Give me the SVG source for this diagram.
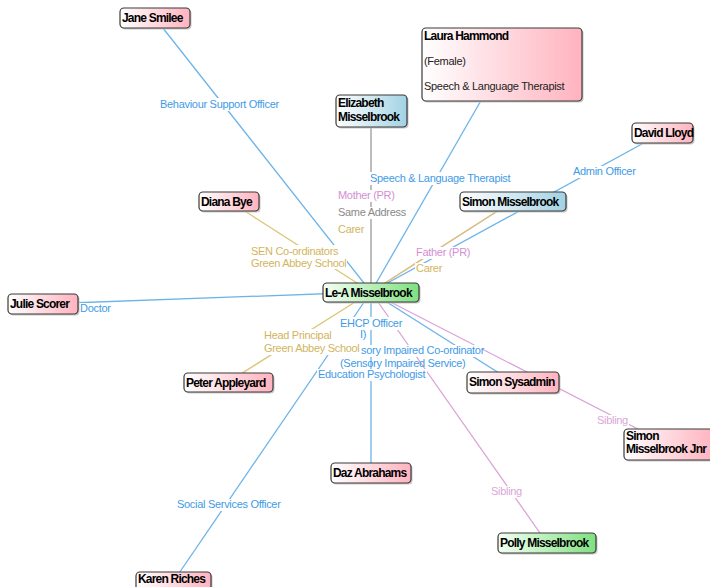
<svg xmlns="http://www.w3.org/2000/svg" width="710" height="587" viewBox="0 0 710 587">
<defs>
<linearGradient id="gPink" x1="0" y1="0" x2="1" y2="0"><stop offset="0" stop-color="#ffffff"/><stop offset="1" stop-color="#ffb3bf"/></linearGradient>
<linearGradient id="gGreen" x1="0" y1="0" x2="1" y2="0"><stop offset="0" stop-color="#f4fff4"/><stop offset="1" stop-color="#7fe07f"/></linearGradient>
<linearGradient id="gBlue" x1="0" y1="0" x2="1" y2="0"><stop offset="0" stop-color="#ffffff"/><stop offset="1" stop-color="#a2d2e4"/></linearGradient>
<style>
.n rect.b{stroke:#3a3a3a;stroke-width:1.2}
.n rect.s{fill:#c8c8c8}
.p{fill:url(#gPink)}
.g{fill:url(#gGreen)}
.bl{fill:url(#gBlue)}
.nt{font-family:"Liberation Sans",Arial,sans-serif;font-size:12px;font-weight:bold;letter-spacing:-0.8px;fill:#000}
.nr{font-family:"Liberation Sans",Arial,sans-serif;font-size:11px;letter-spacing:-0.3px;fill:#222}
.l{font-family:"Liberation Sans",Arial,sans-serif;font-size:11px;letter-spacing:-0.3px}
.cb{stroke:#6cb4e8}
.cg{stroke:#dcc679}
.cp{stroke:#dba3d8}
.cy{stroke:#9a9a9a}
#connectors line{stroke-width:1.3;fill:none}
.tb{fill:#3f9be6}
.tg{fill:#d2b55e}
.tp{fill:#d48ed3}
.tq{fill:#d9a6d9}
.ty{fill:#8a8a8a}
.bg{fill:#ffffff}
</style>
</defs>
<rect width="710" height="587" fill="#ffffff"/>
<g id="connectors">
<line class="cb" x1="155" y1="18" x2="371" y2="292"/>
<line class="cb" x1="502" y1="64" x2="371" y2="292"/>
<line class="cy" x1="371" y1="111" x2="371" y2="292"/>
<line class="cb" x1="662" y1="133" x2="371" y2="292"/>
<line class="cp" x1="513" y1="201" x2="371" y2="292"/>
<line class="cg" x1="513" y1="201" x2="371" y2="292"/>
<line class="cg" x1="229" y1="201" x2="371" y2="292"/>
<line class="cb" x1="43" y1="304" x2="371" y2="292"/>
<line class="cg" x1="228" y1="382" x2="371" y2="292"/>
<line class="cb" x1="513" y1="382" x2="371" y2="292"/>
<line class="cp" x1="667" y1="444" x2="371" y2="292"/>
<line class="cb" x1="371" y1="473" x2="371" y2="292"/>
<line class="cp" x1="547" y1="543" x2="371" y2="292"/>
<line class="cb" x1="173" y1="582" x2="371" y2="292"/>
</g>
<g id="labels">
<rect class="bg" x="159" y="98" width="122" height="13"/><text class="l tb" x="160" y="108">Behaviour Support Officer</text>
<rect class="bg" x="369" y="172" width="142" height="13"/><text class="l tb" x="370" y="182">Speech &amp; Language Therapist</text>
<rect class="bg" x="337" y="190" width="58" height="12"/><text class="l tp" x="338" y="199">Mother (PR)</text>
<rect class="bg" x="337" y="207" width="70" height="12"/><text class="l ty" x="338" y="216">Same Address</text>
<rect class="bg" x="337" y="224" width="30" height="12"/><text class="l tg" x="338" y="233">Carer</text>
<rect class="bg" x="572" y="166" width="66" height="12"/><text class="l tb" x="573" y="175">Admin Officer</text>
<rect class="bg" x="415" y="247" width="55" height="12"/><text class="l tp" x="416" y="256">Father (PR)</text>
<rect class="bg" x="415" y="263" width="30" height="12"/><text class="l tg" x="416" y="272">Carer</text>
<rect class="bg" x="250" y="245" width="97" height="24"/><text class="l tg" x="251" y="255">SEN Co-ordinators</text><text class="l tg" x="251" y="266.5">Green Abbey School</text>
<rect class="bg" x="79" y="303" width="33" height="12"/><text class="l tb" x="80" y="312">Doctor</text>
<rect class="bg" x="263" y="329" width="96" height="26"/><text class="l tg" x="264" y="339">Head Principal</text><text class="l tg" x="264" y="352">Green Abbey School</text>
<rect class="bg" x="339" y="317" width="64" height="13"/><text class="l tb" x="340" y="327">EHCP Officer</text>
<text class="l tb" x="360" y="338">I)</text>
<rect class="bg" x="360" y="345" width="122" height="12"/><text class="l tb" x="361" y="354">sory Impaired Co-ordinator</text>
<text class="l tb" x="340" y="366.5">(Sensory Impaired Service)</text>
<rect class="bg" x="317" y="369" width="110" height="12"/><text class="l tb" x="318" y="378">Education Psychologist</text>
<rect class="bg" x="596" y="415" width="33" height="12"/><text class="l tq" x="597" y="424">Sibling</text>
<rect class="bg" x="490" y="486" width="34" height="12"/><text class="l tq" x="491" y="495">Sibling</text>
<rect class="bg" x="176" y="499" width="107" height="12"/><text class="l tb" x="177" y="508">Social Services Officer</text>
</g>
<g id="n-jane" class="n"><rect class="s" x="121.5" y="9.5" width="70" height="20" rx="4"/><rect class="b p" x="120" y="8" width="70" height="20" rx="4"/><text class="nt" x="122" y="22">Jane Smilee</text></g>
<g id="n-laura" class="n"><rect class="s" x="423.5" y="29.5" width="160" height="73" rx="4"/><rect class="b p" x="422" y="28" width="160" height="73" rx="4"/><text class="nt" x="424" y="40">Laura Hammond</text><text class="nr" x="424" y="65">(Female)</text><text class="nr" x="424" y="90">Speech &amp; Language Therapist</text></g>
<g id="n-elizabeth" class="n"><rect class="s" x="337.5" y="96.5" width="71" height="32" rx="4"/><rect class="b bl" x="336" y="95" width="71" height="32" rx="4"/><text class="nt" x="338" y="107">Elizabeth</text><text class="nt" x="338" y="121">Misselbrook</text></g>
<g id="n-david" class="n"><rect class="s" x="633.5" y="124.5" width="61" height="20" rx="4"/><rect class="b p" x="632" y="123" width="61" height="20" rx="4"/><text class="nt" x="634" y="137">David Lloyd</text></g>
<g id="n-simonm" class="n"><rect class="s" x="461.5" y="193.5" width="106" height="19" rx="4"/><rect class="b bl" x="460" y="192" width="106" height="19" rx="4"/><text class="nt" x="462" y="205.5">Simon Misselbrook</text></g>
<g id="n-diana" class="n"><rect class="s" x="200.5" y="193.5" width="60" height="19" rx="4"/><rect class="b p" x="199" y="192" width="60" height="19" rx="4"/><text class="nt" x="201" y="205.5">Diana Bye</text></g>
<g id="n-lea" class="n"><rect class="s" x="324.5" y="284.5" width="96" height="19" rx="4"/><rect class="b g" x="323" y="283" width="96" height="19" rx="4"/><text class="nt" x="325" y="297">Le-A Misselbrook</text></g>
<g id="n-julie" class="n"><rect class="s" x="9.5" y="295.5" width="70" height="20" rx="4"/><rect class="b p" x="8" y="294" width="70" height="20" rx="4"/><text class="nt" x="10" y="308">Julie Scorer</text></g>
<g id="n-peter" class="n"><rect class="s" x="185.5" y="374.5" width="89" height="19" rx="4"/><rect class="b p" x="184" y="373" width="89" height="19" rx="4"/><text class="nt" x="186" y="387">Peter Appleyard</text></g>
<g id="n-sysadmin" class="n"><rect class="s" x="468.5" y="373.5" width="92" height="21" rx="4"/><rect class="b p" x="467" y="372" width="92" height="21" rx="4"/><text class="nt" x="469" y="386">Simon Sysadmin</text></g>
<g id="n-jnr" class="n"><rect class="s" x="625.5" y="430.5" width="90" height="31" rx="4"/><rect class="b p" x="624" y="429" width="90" height="31" rx="4"/><text class="nt" x="626" y="440">Simon</text><text class="nt" x="626" y="453">Misselbrook Jnr</text></g>
<g id="n-daz" class="n"><rect class="s" x="332.5" y="464.5" width="80" height="20" rx="4"/><rect class="b p" x="331" y="463" width="80" height="20" rx="4"/><text class="nt" x="333" y="477">Daz Abrahams</text></g>
<g id="n-polly" class="n"><rect class="s" x="499.5" y="534.5" width="98" height="20" rx="4"/><rect class="b g" x="498" y="533" width="98" height="20" rx="4"/><text class="nt" x="500" y="547">Polly Misselbrook</text></g>
<g id="n-karen" class="n"><rect class="s" x="137.5" y="573.5" width="75" height="20" rx="4"/><rect class="b p" x="136" y="572" width="75" height="20" rx="4"/><text class="nt" x="138" y="583">Karen Riches</text></g>
</svg>
